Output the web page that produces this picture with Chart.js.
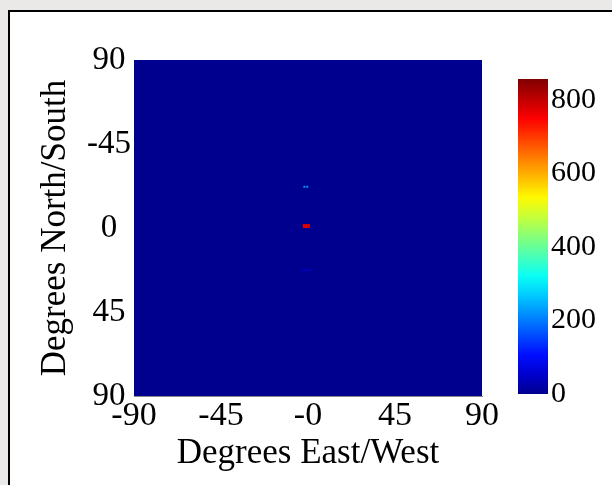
<!DOCTYPE html>
<html>
<head>
<meta charset="utf-8">
<script src="https://cdn.jsdelivr.net/npm/chart.js@4"></script>
<style>
html, body { margin: 0; padding: 0; }
body { width: 612px; height: 485px; background: #ebe8e8; position: relative; overflow: hidden; }
#frame { position: absolute; left: 8px; top: 10px; width: 640px; height: 520px; background: #fff; border: 2px solid #000; }
#map { position: absolute; left: 0; top: 0; }
#bar { position: absolute; left: 500px; top: 0; }
</style>
</head>
<body>
<div id="frame"></div>
<canvas id="map" width="612" height="485"></canvas>
<canvas id="bar" width="112" height="485"></canvas>
<script>
// Heat map of counts over the sky (lon/lat degrees)

// Axis ticks
const xTickValues = [-90, -45, 0, 45, 90];
const xTickLabels = ['-90', '-45', '-0', '45', '90'];
const yTickValues = [-90, -45, 0, 45, 90];
const yTickLabels = ['90', '-45', '0', '45', '90'];
const colorTickValues = [0, 200, 400, 600, 800];
const colorMax = 857;

// Whole grid is zero except a few cells
const gridLon = [-90, 90];
const gridLat = [-90, 90];
const baseValue = 0;

const cellLonFrom = [-2.6, -2.4, -0.9, -3.0];
const cellLonTo   = [1.0, -1.4, 0.1, 2.0];
const cellLatFrom = [-2.1, -22.6, -22.6, 22.2];
const cellLatTo   = [0.0, -21.6, -21.6, 23.0];
const cellValues  = [780, 230, 230, 45];

const FONT = 'Liberation Serif, Times New Roman, serif';

// MATLAB style jet colormap (64 entries)
function jet(t) {
    t = Math.min(1, Math.max(0, t));
    const x = (t * 63 + 1) / 64;
    const c = v => Math.round(255 * Math.min(1, Math.max(0, v)));
    const r = c(1.5 - Math.abs(4 * x - 3));
    const g = c(1.5 - Math.abs(4 * x - 2));
    const b = c(1.5 - Math.abs(4 * x - 1));
    return `rgb(${r}, ${g}, ${b})`;
}

function fillCell(ctx, x, y, lon0, lon1, lat0, lat1) {
    const px0 = x.getPixelForValue(lon0);
    const px1 = x.getPixelForValue(lon1);
    const py0 = y.getPixelForValue(lat0);
    const py1 = y.getPixelForValue(lat1);
    ctx.fillRect(Math.min(px0, px1), Math.min(py0, py1), Math.abs(px1 - px0), Math.abs(py1 - py0));
}

const heatmapPlugin = {
    id: 'heatmap',
    beforeDatasetsDraw(chart) {
        const { ctx, scales: { x, y } } = chart;
        ctx.save();
        ctx.fillStyle = jet(baseValue / colorMax);
        fillCell(ctx, x, y, gridLon[0], gridLon[1], gridLat[0], gridLat[1]);
        cellValues.forEach((v, i) => {
            ctx.fillStyle = jet(v / colorMax);
            fillCell(ctx, x, y, cellLonFrom[i], cellLonTo[i], cellLatFrom[i], cellLatTo[i]);
        });
        ctx.restore();
    }
};

Chart.defaults.font.family = FONT;
Chart.defaults.color = '#000';

new Chart(document.getElementById('map'), {
    type: 'scatter',
    data: { datasets: [{ data: [] }] },
    plugins: [heatmapPlugin],
    options: {
        responsive: false,
        animation: false,
        devicePixelRatio: 1,
        layout: { padding: { left: 0, top: 60, right: 130, bottom: 9 } },
        plugins: { legend: { display: false }, tooltip: { enabled: false } },
        scales: {
            x: {
                type: 'linear',
                min: -90,
                max: 90,
                afterBuildTicks: scale => { scale.ticks = xTickValues.map(v => ({ value: v })); },
                afterFit: scale => { scale.height = 80; },
                grid: { display: false, drawTicks: false },
                border: { display: true, color: '#8a8a8a', width: 1 },
                ticks: {
                    autoSkip: false,
                    maxRotation: 0,
                    padding: 3,
                    font: { size: 34, lineHeight: 1 },
                    callback: (v, i) => xTickLabels[i]
                },
                title: {
                    display: true,
                    text: 'Degrees East/West',
                    font: { size: 35 },
                    padding: { top: 0, bottom: 1 }
                }
            },
            y: {
                type: 'linear',
                min: -90,
                max: 90,
                reverse: true,
                afterBuildTicks: scale => { scale.ticks = yTickValues.map(v => ({ value: v })); },
                afterFit: scale => { scale.width = 134; },
                grid: { display: false, drawTicks: false },
                border: { display: false },
                ticks: {
                    autoSkip: false,
                    padding: 3,
                    crossAlign: 'center',
                    font: { size: 33 },
                    callback: (v, i) => yTickLabels[i]
                },
                title: {
                    display: true,
                    text: 'Degrees North/South',
                    font: { size: 35 },
                    padding: { top: 35, bottom: 0 }
                }
            }
        }
    }
});

// Colour bar
new Chart(document.getElementById('bar'), {
    type: 'bar',
    data: {
        labels: [''],
        datasets: [{
            data: [[0, colorMax]],
            barPercentage: 1,
            categoryPercentage: 1,
            borderWidth: 0,
            backgroundColor: context => {
                const { chart } = context;
                if (!chart.chartArea) return jet(0);
                const y = chart.scales.y;
                const g = chart.ctx.createLinearGradient(0, y.getPixelForValue(0), 0, y.getPixelForValue(colorMax));
                for (let i = 0; i <= 16; i++) g.addColorStop(i / 16, jet(i / 16));
                return g;
            }
        }]
    },
    options: {
        responsive: false,
        animation: false,
        devicePixelRatio: 1,
        layout: { padding: { left: 18, top: 79, right: 0, bottom: 91 } },
        plugins: { legend: { display: false }, tooltip: { enabled: false } },
        scales: {
            x: { display: false },
            y: {
                position: 'right',
                min: 0,
                max: colorMax,
                afterBuildTicks: scale => { scale.ticks = colorTickValues.map(v => ({ value: v })); },
                afterFit: scale => { scale.width = 64; },
                grid: { display: false, drawTicks: false },
                border: { display: false },
                ticks: { padding: 3, font: { size: 30 } }
            }
        }
    }
});
</script>
</body>
</html>
